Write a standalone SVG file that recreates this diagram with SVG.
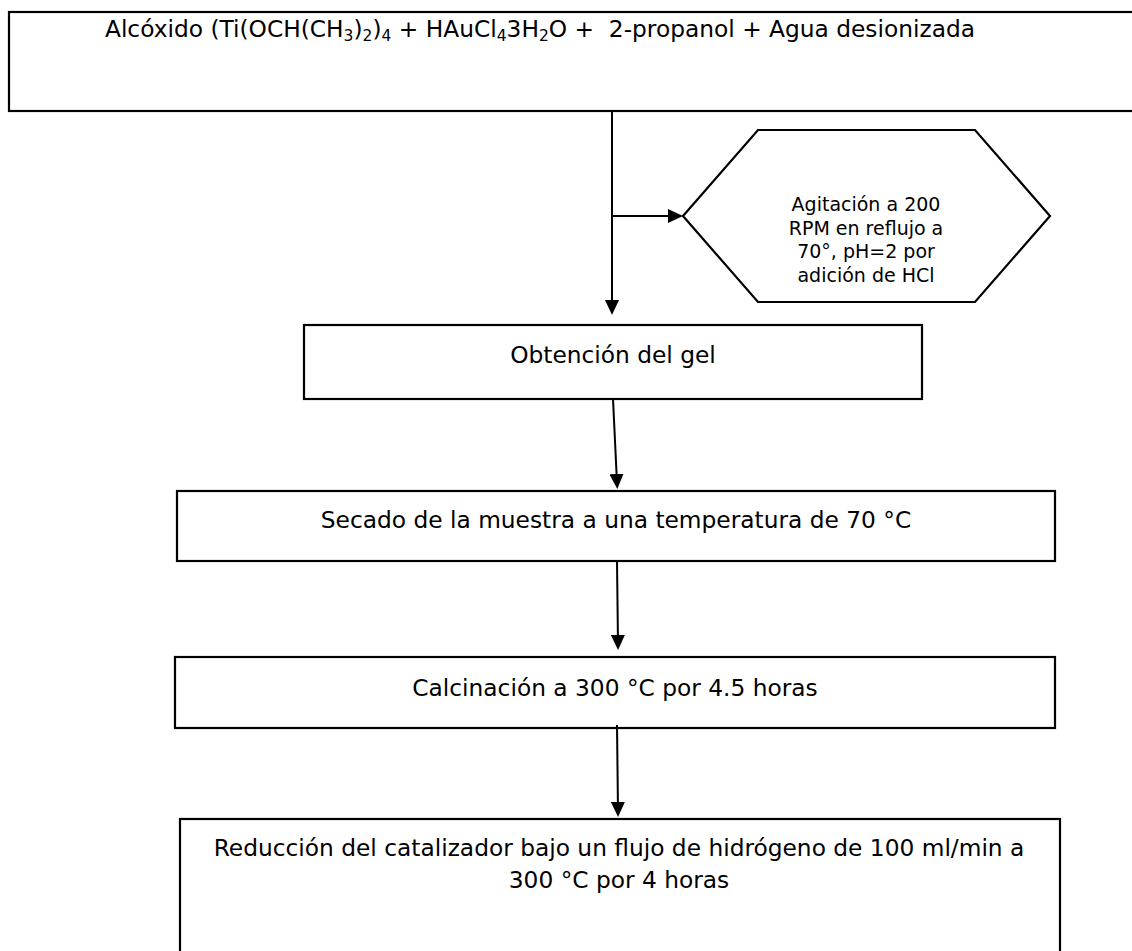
<svg xmlns="http://www.w3.org/2000/svg" width="1132" height="951" viewBox="0 0 1132 951">
<style>
.box{fill:#fff;stroke:#000;stroke-width:2.2}
.t{font-family:"DejaVu Sans","Liberation Sans",sans-serif;font-size:23.3px;fill:#000;text-anchor:middle}
.h{font-family:"DejaVu Sans","Liberation Sans",sans-serif;font-size:19px;fill:#000;text-anchor:middle}
.s{font-size:15.5px}
.c{fill:none;stroke:#000;stroke-width:2;marker-end:url(#ah)}
</style>
<defs>
<marker id="ah" markerUnits="userSpaceOnUse" markerWidth="16" markerHeight="14" refX="9" refY="7" orient="auto">
<path d="M0,0 L15,7 L0,14 z" fill="#000"/>
</marker>
</defs>
<rect width="1132" height="951" fill="#fff"/>
<g id="n1">
<rect class="box" x="9" y="12" width="1140" height="99"/>
<text class="t" x="540" y="37" xml:space="preserve">Alcóxido (Ti(OCH(CH<tspan class="s" dy="4">3</tspan><tspan dy="-4">)</tspan><tspan class="s" dy="4">2</tspan><tspan dy="-4">)</tspan><tspan class="s" dy="4">4</tspan><tspan dy="-4"> + HAuCl</tspan><tspan class="s" dy="4">4</tspan><tspan dy="-4">3H</tspan><tspan class="s" dy="4">2</tspan><tspan dy="-4">O +  2-propanol + Agua desionizada</tspan></text>
</g>
<g id="n2">
<polygon class="box" points="683,216 758,130 975,130 1050,216 975,302 758,302"/>
<text class="h" x="866" y="211">Agitación a 200</text>
<text class="h" x="866" y="234.5">RPM en reflujo a</text>
<text class="h" x="866" y="258">70°, pH=2 por</text>
<text class="h" x="866" y="281.5">adición de HCl</text>
</g>
<g id="n3">
<rect class="box" x="304" y="325" width="618" height="74"/>
<text class="t" x="613" y="363">Obtención del gel</text>
</g>
<g id="n4">
<rect class="box" x="177" y="491" width="878" height="70"/>
<text class="t" x="616" y="528">Secado de la muestra a una temperatura de 70 °C</text>
</g>
<g id="n5">
<rect class="box" x="175" y="657" width="880" height="71"/>
<text class="t" x="615" y="696">Calcinación a 300 °C por 4.5 horas</text>
</g>
<g id="n6">
<rect class="box" x="180" y="819" width="880" height="140"/>
<text class="t" x="619" y="856">Reducción del catalizador bajo un flujo de hidrógeno de 100 ml/min a</text>
<text class="t" x="619" y="888">300 °C por 4 horas</text>
</g>
<g id="connectors">
<path class="c" d="M612,111 V309"/>
<path class="c" d="M612,216 H677"/>
<path class="c" d="M613,399 L617,483"/>
<path class="c" d="M617,561 L618,644"/>
<path class="c" d="M617,725 L618,811"/>
</g>
</svg>
